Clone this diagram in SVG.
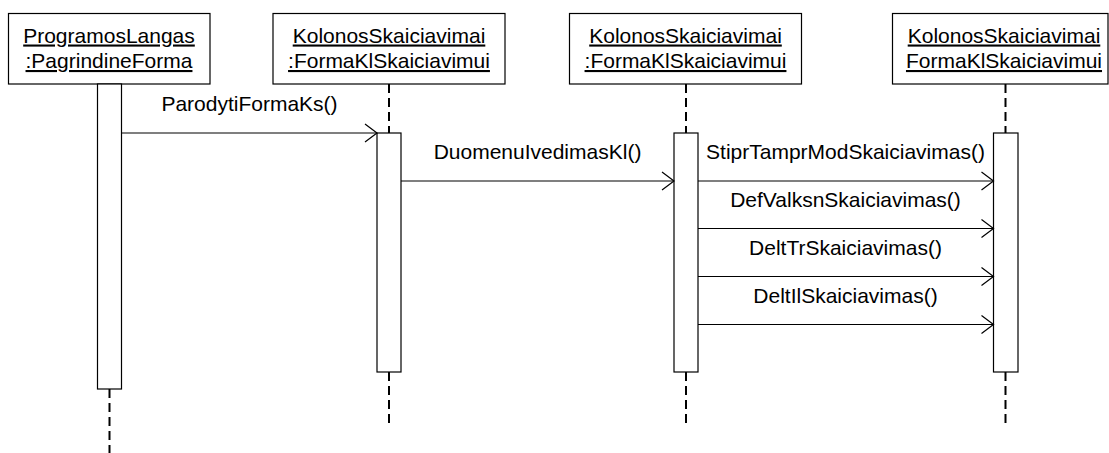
<svg xmlns="http://www.w3.org/2000/svg" width="1109" height="453" viewBox="0 0 1109 453">
  <style>
    .obj { fill: #fff; stroke: #000; stroke-width: 1.2; }
    .act { fill: #fff; stroke: #000; stroke-width: 1.2; }
    .life { stroke: #000; stroke-width: 2; stroke-dasharray: 9 5; fill: none; }
    .msg { stroke: #000; stroke-width: 1.2; fill: none; marker-end: url(#open); }
    text { font-family: "Liberation Sans", Arial, sans-serif; font-size: 21px; fill: #000; text-anchor: middle; }
    .name { text-decoration: underline; }
  </style>
  <defs>
    <marker id="open" markerUnits="userSpaceOnUse" markerWidth="16" markerHeight="22" refX="13" refY="10" orient="auto">
      <polyline points="1,1 13,10 1,19" fill="none" stroke="#000" stroke-width="1.2"/>
    </marker>
  </defs>

  <!-- lifelines (dashed) -->
  <g id="lifelines">
    <line class="life" x1="109.5" y1="389" x2="109.5" y2="453"/>
    <line class="life" x1="389" y1="84" x2="389" y2="133"/>
    <line class="life" x1="389" y1="372" x2="389" y2="428"/>
    <line class="life" x1="686" y1="84" x2="686" y2="133"/>
    <line class="life" x1="686" y1="372" x2="686" y2="428"/>
    <line class="life" x1="1005.5" y1="84" x2="1005.5" y2="133"/>
    <line class="life" x1="1005.5" y1="372" x2="1005.5" y2="428"/>
  </g>

  <g id="obj1">
    <rect class="obj" x="8.5" y="13.5" width="201.5" height="70.5"/>
    <text class="name" x="109" y="42.5">ProgramosLangas</text>
    <text class="name" x="109" y="68">:PagrindineForma</text>
    <rect class="act" x="97.5" y="84" width="24" height="305"/>
  </g>

  <g id="obj2">
    <rect class="obj" x="273" y="13.5" width="232" height="70.5"/>
    <text class="name" x="389" y="42.5">KolonosSkaiciavimai</text>
    <text class="name" x="389" y="68">:FormaKlSkaiciavimui</text>
    <rect class="act" x="377" y="133" width="24" height="239"/>
  </g>

  <g id="obj3">
    <rect class="obj" x="569.5" y="13.5" width="232" height="70.5"/>
    <text class="name" x="685.5" y="42.5">KolonosSkaiciavimai</text>
    <text class="name" x="685.5" y="68">:FormaKlSkaiciavimui</text>
    <rect class="act" x="674" y="133" width="24" height="239"/>
  </g>

  <g id="obj4">
    <rect class="obj" x="892.5" y="13.5" width="215.5" height="70.5"/>
    <text class="name" x="1004" y="42.5">KolonosSkaiciavimai</text>
    <text class="name" x="1004" y="68">FormaKlSkaiciavimui</text>
    <rect class="act" x="993.5" y="133" width="24.5" height="239"/>
  </g>

  <!-- messages -->
  <g id="connectors">
    <line class="msg" x1="121.5" y1="133" x2="377" y2="133"/>
    <text x="249.5" y="111">ParodytiFormaKs()</text>

    <line class="msg" x1="401" y1="181" x2="674" y2="181"/>
    <text x="537.5" y="159">DuomenuIvedimasKl()</text>

    <line class="msg" x1="698" y1="181" x2="993.5" y2="181"/>
    <text x="845.5" y="159">StiprTamprModSkaiciavimas()</text>

    <line class="msg" x1="698" y1="228.5" x2="993.5" y2="228.5"/>
    <text x="845.5" y="206.5">DefValksnSkaiciavimas()</text>

    <line class="msg" x1="698" y1="276.5" x2="993.5" y2="276.5"/>
    <text x="845.5" y="254.5">DeltTrSkaiciavimas()</text>

    <line class="msg" x1="698" y1="324.5" x2="993.5" y2="324.5"/>
    <text x="845.5" y="302.5">DeltIlSkaiciavimas()</text>
  </g>
</svg>
